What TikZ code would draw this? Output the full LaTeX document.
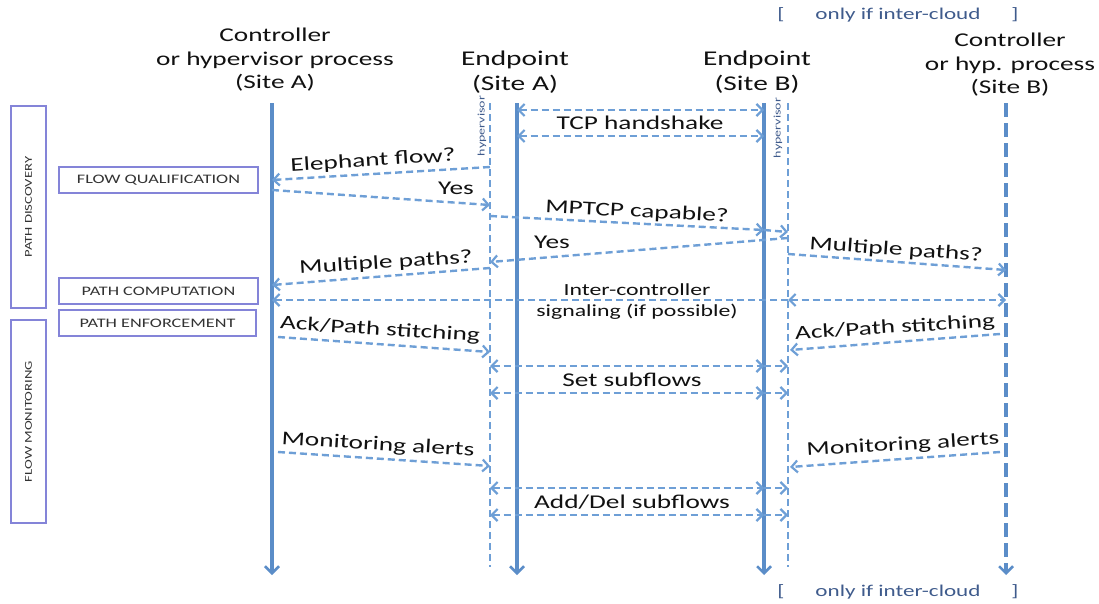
\documentclass[tikz,border=0pt]{standalone}
\usepackage{fontspec}
\setmainfont[FakeStretch=1.4]{Carlito}
\usetikzlibrary{arrows.meta}
\definecolor{life}{HTML}{5B8DC8}
\definecolor{msg}{HTML}{6E9FD6}
\definecolor{boxc}{HTML}{8484D8}
\definecolor{note}{HTML}{3F5B8C}
\definecolor{txt}{HTML}{111111}
\tikzset{
  lifeline/.style={draw=life, line width=3.2pt, -{Straight Barb[length=7pt,width=14pt,line width=2.5pt]}},
  lifedash/.style={lifeline, dash pattern=on 14pt off 6pt},
  hypline/.style={draw=msg, line width=1.8pt, dash pattern=on 7pt off 4pt},
  msgline/.style={draw=msg, line width=2.4pt, dash pattern=on 7pt off 4pt},
  barb/.tip={Straight Barb[length=6pt,width=12pt,line width=2.2pt]},
  head/.style={align=center, text=txt, inner sep=0pt, font=\fontsize{19.5}{23.5}\selectfont},
  headE/.style={align=center, text=txt, inner sep=0pt, font=\fontsize{21}{25}\selectfont},
  msgtxt/.style={text=txt, inner sep=0pt, font=\fontsize{19.5}{21}\selectfont},
  sigtxt/.style={align=center, text=txt, inner sep=0pt, font=\fontsize{17}{21}\selectfont},
  phase/.style={draw=boxc, line width=1.8pt, text=black!80, inner sep=0pt, font=\fontsize{13}{14}\selectfont},
  vphase/.style={draw=boxc, line width=1.8pt, inner sep=0pt},
  vphasetxt/.style={rotate=90, text=black!80, inner sep=0pt, font=\fontsize{10.5}{12}\selectfont},
  hyptxt/.style={text=note, inner sep=0pt, rotate=90, font=\fontsize{10}{11}\selectfont},
  notetxt/.style={text=note, inner sep=0pt, font=\fontsize{16.5}{18}\selectfont}
}
\begin{document}
\begin{tikzpicture}[x=1pt,y=-1pt]
\path[use as bounding box] (0,0) rectangle (1099,603);

% headers
\node[head]  (hCA) at (275,60) {Controller\\or hypervisor process\\(Site A)};
\node[headE] (hEA) at (515,72) {Endpoint\\(Site A)};
\node[headE] (hEB) at (757,72) {Endpoint\\(Site B)};
\node[head]  (hCB) at (1010,65) {Controller\\or hyp. process\\(Site B)};

\node[notetxt] (noteTop) at (898,15) {[\hspace{31pt}only if inter-cloud\hspace{31pt}]};
\node[notetxt] (noteBot) at (898,592) {[\hspace{31pt}only if inter-cloud\hspace{31pt}]};

% phase boxes
\node[vphase, minimum width=35pt, minimum height=202pt] (pd) at (28.5,207) {};
\node[vphasetxt] (pdt) at (pd.center) {PATH DISCOVERY};
\node[vphase, minimum width=35pt, minimum height=203pt] (fm) at (28.5,421.5) {};
\node[vphasetxt] (fmt) at (fm.center) {FLOW MONITORING};
\node[phase, minimum width=199pt, minimum height=26pt] (fq) at (158.5,180) {FLOW QUALIFICATION};
\node[phase, minimum width=199pt, minimum height=26pt] (pc) at (158.5,291) {PATH COMPUTATION};
\node[phase, minimum width=197pt, minimum height=26pt] (pe) at (157.5,323) {PATH ENFORCEMENT};

% lifelines
\coordinate (CAt) at (272,103); \coordinate (CAb) at (272,575);
\coordinate (HAt) at (490,103); \coordinate (HAb) at (490,567);
\coordinate (EAt) at (517,103); \coordinate (EAb) at (517,575);
\coordinate (EBt) at (764,103); \coordinate (EBb) at (764,575);
\coordinate (HBt) at (788,103); \coordinate (HBb) at (788,567);
\coordinate (CBt) at (1006,103); \coordinate (CBb) at (1006,575);
\draw[lifeline] (CAt) -- (CAb);
\draw[lifeline] (EAt) -- (EAb);
\draw[lifeline] (EBt) -- (EBb);
\draw[lifedash] (CBt) -- (CBb);
\draw[hypline] (HAt) -- (HAb);
\draw[hypline] (HBt) -- (HBb);
\node[hyptxt] (hypA) at (482,126) {hypervisor};
\node[hyptxt] (hypB) at (778,128) {hypervisor};

% TCP handshake
\coordinate (t1a) at (517,110); \coordinate (t1b) at (764,110);
\coordinate (t2a) at (517,136); \coordinate (t2b) at (764,136);
\draw[msgline, barb-barb] (t1a) -- (t1b);
\draw[msgline, barb-barb] (t2a) -- (t2b);
\node[msgtxt] (ltcp) at (640,123) {TCP handshake};

% Elephant flow?
\coordinate (e1) at (490,167); \coordinate (e2) at (272,180);
\draw[msgline, -barb] (e1) -- (e2);
\node[msgtxt, rotate=3.5] (lel) at (373,161) {Elephant flow?};

% Yes
\coordinate (y1) at (272,190); \coordinate (y2) at (490,205);
\draw[msgline, -barb] (y1) -- (y2);
\node[msgtxt] (ly1) at (456,188) {Yes};

% MPTCP capable?
\coordinate (m1) at (490,216); \coordinate (m2) at (764,230); \coordinate (m3) at (788,232);
\draw[msgline, -barb] (m1) -- (m2);
\draw[msgline, -barb] (m2) -- (m3);
\node[msgtxt, rotate=-3] (lmp) at (637,212) {MPTCP capable?};

% Yes (back)
\coordinate (yb1) at (788,238); \coordinate (yb2) at (490,262);
\draw[msgline, -barb] (yb1) -- (yb2);
\node[msgtxt] (ly2) at (552,242) {Yes};

% Multiple paths? (left)
\coordinate (pl1) at (490,268); \coordinate (pl2) at (272,285);
\draw[msgline, -barb] (pl1) -- (pl2);
\node[msgtxt, rotate=3.5] (lpl) at (386,263) {Multiple paths?};

% Multiple paths? (right)
\coordinate (pr1) at (788,254); \coordinate (pr2) at (1006,270);
\draw[msgline, -barb] (pr1) -- (pr2);
\node[msgtxt, rotate=-4] (lpr) at (896,250) {Multiple paths?};

% inter-controller signaling
\coordinate (s1) at (788,300); \coordinate (s2) at (272,300); \coordinate (s3) at (1006,300);
\draw[msgline, -barb] (s1) -- (s2);
\draw[msgline, barb-barb] (s1) -- (s3);
\node[sigtxt] (lsig) at (637,302) {Inter-controller\\signaling (if possible)};

% Ack/Path stitching (left)
\coordinate (al1) at (278,337); \coordinate (al2) at (490,352);
\draw[msgline, -barb] (al1) -- (al2);
\node[msgtxt, rotate=-3.5] (lal) at (380,330) {Ack/Path stitching};

% Ack/Path stitching (right)
\coordinate (ar1) at (1000,334); \coordinate (ar2) at (790,350);
\draw[msgline, -barb] (ar1) -- (ar2);
\node[msgtxt, rotate=3.5] (lar) at (895,328) {Ack/Path stitching};

% Set subflows
\coordinate (ss1a) at (490,366); \coordinate (ss1b) at (764,366); \coordinate (ss1c) at (788,366);
\coordinate (ss2a) at (490,393); \coordinate (ss2b) at (764,393); \coordinate (ss2c) at (788,393);
\draw[msgline, barb-barb] (ss1a) -- (ss1b);
\draw[msgline, -barb] (ss1b) -- (ss1c);
\draw[msgline, barb-barb] (ss2a) -- (ss2b);
\draw[msgline, -barb] (ss2b) -- (ss2c);
\node[msgtxt] (lss) at (632,380) {Set subflows};

% Monitoring alerts (left)
\coordinate (ml1) at (278,452); \coordinate (ml2) at (490,466);
\draw[msgline, -barb] (ml1) -- (ml2);
\node[msgtxt, rotate=-3.5] (lml) at (378,445) {Monitoring alerts};

% Monitoring alerts (right)
\coordinate (mr1) at (1000,452); \coordinate (mr2) at (790,467);
\draw[msgline, -barb] (mr1) -- (mr2);
\node[msgtxt, rotate=3.5] (lmr) at (903,445) {Monitoring alerts};

% Add/Del subflows
\coordinate (ad1a) at (490,488); \coordinate (ad1b) at (764,488); \coordinate (ad1c) at (788,488);
\coordinate (ad2a) at (490,515); \coordinate (ad2b) at (764,515); \coordinate (ad2c) at (788,515);
\draw[msgline, barb-barb] (ad1a) -- (ad1b);
\draw[msgline, -barb] (ad1b) -- (ad1c);
\draw[msgline, barb-barb] (ad2a) -- (ad2b);
\draw[msgline, -barb] (ad2b) -- (ad2c);
\node[msgtxt] (lad) at (632,502) {Add/Del subflows};
\end{tikzpicture}
\end{document}
